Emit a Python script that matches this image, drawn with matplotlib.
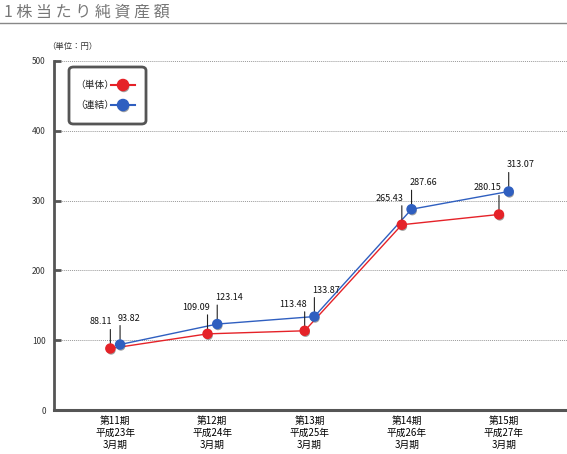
import matplotlib.pyplot as plt
import matplotlib.patheffects as pe
from matplotlib.patches import FancyBboxPatch
from matplotlib.lines import Line2D
from matplotlib.transforms import offset_copy
import numpy as np

plt.rcParams['font.family'] = ['Noto Sans CJK JP', 'DejaVu Sans']

# =============================
# Daten
# =============================
periods = ["第11期\n平成23年\n3月期", "第12期\n平成24年\n3月期", "第13期\n平成25年\n3月期",
           "第14期\n平成26年\n3月期", "第15期\n平成27年\n3月期"]
tanntai = [88.11, 109.09, 113.48, 265.43, 280.15]   # 単体
renketsu = [93.82, 123.14, 133.87, 287.66, 313.07]  # 連結
yticks = [0, 100, 200, 300, 400, 500]
series_labels = ["（単体）", "（連結）"]

red = "#e52228"
blue = "#2f5fc0"
dark = "#555555"

W, H = 567, 454


def fp(x, y):
    # Pixel (von oben links) -> Figurenkoordinaten
    return x / W, 1 - y / H


# =============================
# Abbildung
# =============================
fig = plt.figure(figsize=(W / 100, H / 100), dpi=100)
ax = fig.add_axes([54 / W, 44 / H, 513 / W, 349 / H])
ax.set_xlim(-0.63, 4.65)
ax.set_ylim(0, 500)

x = np.arange(len(periods))
shadow = [pe.SimplePatchShadow(offset=(0.6, -1.2), shadow_rgbFace="#444444", alpha=0.5), pe.Normal()]

ax.plot(x - 0.05, tanntai, color=red, lw=1, zorder=3)
ax.plot(x + 0.05, renketsu, color=blue, lw=1, zorder=3)
ax.plot(x - 0.05, tanntai, ls="none", marker="o", ms=6.5, color=red, mec=red, zorder=4,
        path_effects=shadow)
ax.plot(x + 0.05, renketsu, ls="none", marker="o", ms=6.5, color=blue, mec=blue, zorder=4,
        path_effects=shadow)

# Wertebeschriftungen mit kurzen Hinweislinien
lo = offset_copy(ax.transData, fig=fig, x=0, y=5, units="dots")
hi = offset_copy(ax.transData, fig=fig, x=0, y=19, units="dots")
for xs, vals, ha, dx in [(x - 0.05, tanntai, "right", 2), (x + 0.05, renketsu, "left", -2)]:
    tr = offset_copy(ax.transData, fig=fig, x=dx, y=22, units="dots")
    for xi, v in zip(xs, vals):
        ax.annotate("", xy=(xi, v), xycoords=lo, xytext=(xi, v), textcoords=hi,
                    arrowprops=dict(arrowstyle="-", color="#222222", lw=0.8,
                                    shrinkA=0, shrinkB=0))
        ax.text(xi, v, f"{v:.2f}", transform=tr, ha=ha, va="bottom", fontsize=6.5,
                color="#111111")

# Achsen
ax.set_yticks(yticks)
ax.set_yticklabels([str(t) for t in yticks], fontsize=6, color="#333333")
ax.set_xticks(x)
ax.set_xticklabels(periods, fontsize=7, linespacing=1.3)
ax.tick_params(axis="y", direction="in", length=5, width=2, color=dark, pad=6)
ax.tick_params(axis="x", length=0, pad=4)
ax.grid(axis="y", ls=(0, (1, 1)), color="#999999", lw=0.7)
ax.set_axisbelow(True)
for s in ["top", "right"]:
    ax.spines[s].set_visible(False)
ax.spines["left"].set_color(dark)
ax.spines["left"].set_linewidth(2)
ax.spines["bottom"].set_color(dark)
ax.spines["bottom"].set_linewidth(2.2)

# Legende (manuell)
x0, y0 = fp(69, 124)
x1, y1 = fp(146, 67)
box = FancyBboxPatch((x0, y0), x1 - x0, y1 - y0, boxstyle="round,pad=0,rounding_size=0.008",
                     transform=fig.transFigure, fc="white", ec=dark, lw=2, zorder=5)
fig.add_artist(box)
for label, col, yy in [(series_labels[0], red, 85), (series_labels[1], blue, 105)]:
    fig.text(*fp(75, yy), label, fontsize=7, color="#222222", va="center", ha="left",
             zorder=6)
    xa, ya = fp(111, yy)
    xb, _ = fp(135, yy)
    xm, _ = fp(123, yy)
    fig.add_artist(Line2D([xa, xb], [ya, ya], color=col, lw=1.5, zorder=6))
    fig.add_artist(Line2D([xm], [ya], ls="none", marker="o", ms=8, color=col, zorder=7,
                          path_effects=shadow))

# Titel und Einheit
fig.text(*fp(4, 12), "1 株 当 た り 純 資 産 額", fontsize=11.5, color="#777777",
         va="center", ha="left")
fig.add_artist(Line2D([0, 1], [1 - 23 / H, 1 - 23 / H], color="#888888", lw=1))
fig.text(*fp(47, 47), "（単位：円）", fontsize=6, color="#333333",
         va="center", ha="left")

fig.savefig("out.png", dpi=100)
